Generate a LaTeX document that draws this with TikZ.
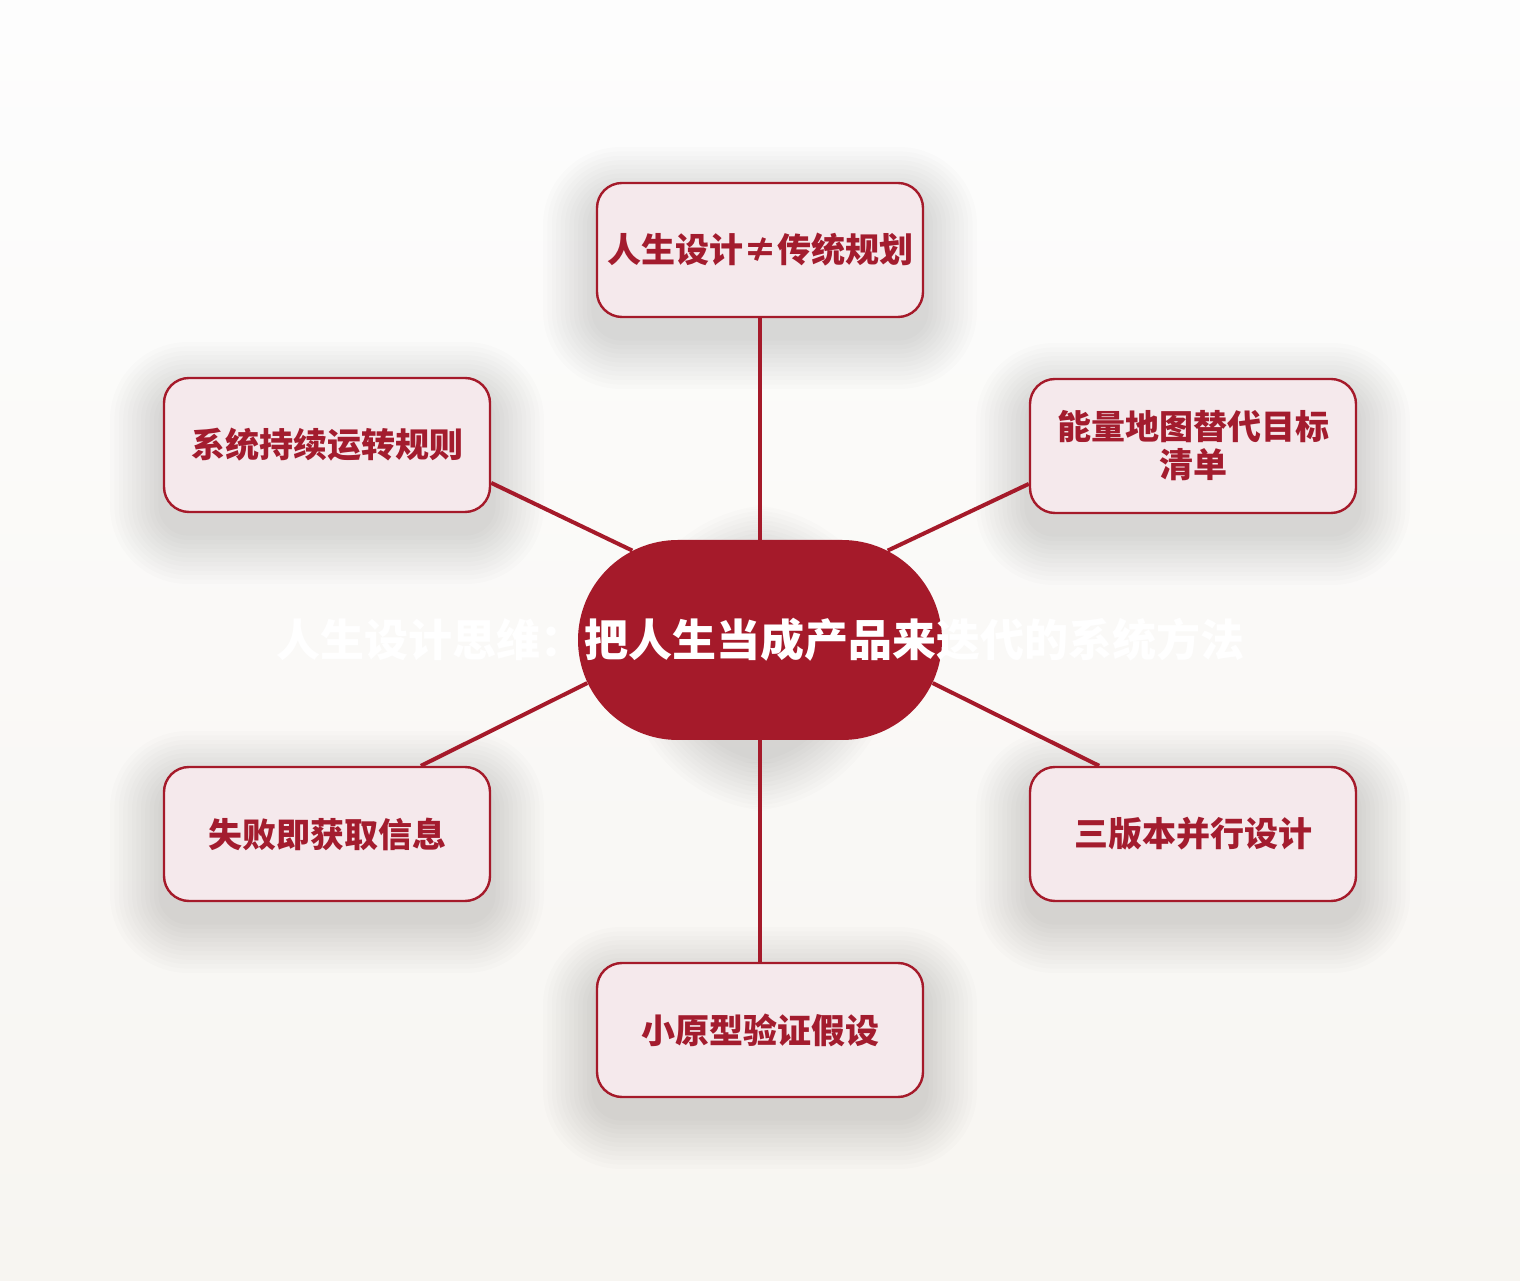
\documentclass[tikz,border=0pt]{standalone}
\usepackage{fontspec}
\setmainfont{Noto Sans CJK SC}
\usetikzlibrary{shapes.misc,backgrounds}
\definecolor{hubred}{RGB}{165,26,42}
\definecolor{leaftext}{RGB}{163,28,46}
\definecolor{leaffill}{RGB}{245,233,236}
\definecolor{bgtop}{RGB}{253,253,253}
\definecolor{bgbottom}{RGB}{247,245,241}
\begin{document}
\begin{tikzpicture}[x=0.5pt,y=0.5pt,
		hub/.style={shape=rounded rectangle,fill=hubred,minimum width=182pt,minimum height=100pt,inner sep=0,
			text=white,font=\fontsize{22}{26}\selectfont\bfseries},
		leaf/.style={draw=hubred,line width=1.2pt,fill=leaffill,rounded corners=12.5pt,
			minimum width=163pt,minimum height=67pt,inner sep=0,align=center,
			text=leaftext,font=\fontsize{17}{19}\selectfont\bfseries},
		haze/.style={fill=black,opacity=0.012},
		link/.style={draw=hubred,line width=2pt}]
		\useasboundingbox (0,0) rectangle (1520,1280);
		% centre and the six ideas round it
		\node[hub] (c) at (760,640) {\makebox[0pt]{人生设计思维：把人生当成产品来迭代的系统方法}};
		\node[leaf] (t) at (760,1030) {人生设计≠传统规划};
		\node[leaf] (ul) at (327,835) {系统持续运转规则};
		\node[leaf] (ur) at (1193,834) {能量地图替代目标\\清单};
		\node[leaf] (ll) at (327,446) {失败即获取信息};
		\node[leaf] (lr) at (1193,446) {三版本并行设计};
		\node[leaf] (b) at (760,250) {小原型验证假设};
		% soft shadows
		\begin{scope}[on background layer]
			\shade[top color=bgtop,bottom color=bgbottom] (0,0) rectangle (1520,1280);
			\foreach \k in {1,...,12}{
				\pgfmathsetmacro{\sp}{\k*2.2}
				\pgfmathsetmacro{\rr}{12.5+\k*2.2}
				\foreach \n in {t,ul,ur,ll,lr,b}
					\fill[haze,rounded corners=\rr pt] ([shift={(-\sp pt,-\sp pt-9pt)}]\n.south west) rectangle ([shift={(\sp pt,\sp pt-9pt)}]\n.north east);
				\pgfmathsetmacro{\hr}{50+\k*2.2}
				\fill[haze,rounded corners=\hr pt] ([shift={(-\sp pt,-\sp pt-9pt)}]c.south west) rectangle ([shift={(\sp pt,\sp pt-9pt)}]c.north east);
			}
		\end{scope}
		% links
		\draw[link] (c.north) -- (t.south);
		\draw[link] (c.145) -- (ul.-13);
		\draw[link] (c.35) -- (ur.193);
		\draw[link] (c.194) -- (ll.36);
		\draw[link] (c.-14) -- (lr.144);
		\draw[link] (c.south) -- (b.north);
\end{tikzpicture}
\end{document}
